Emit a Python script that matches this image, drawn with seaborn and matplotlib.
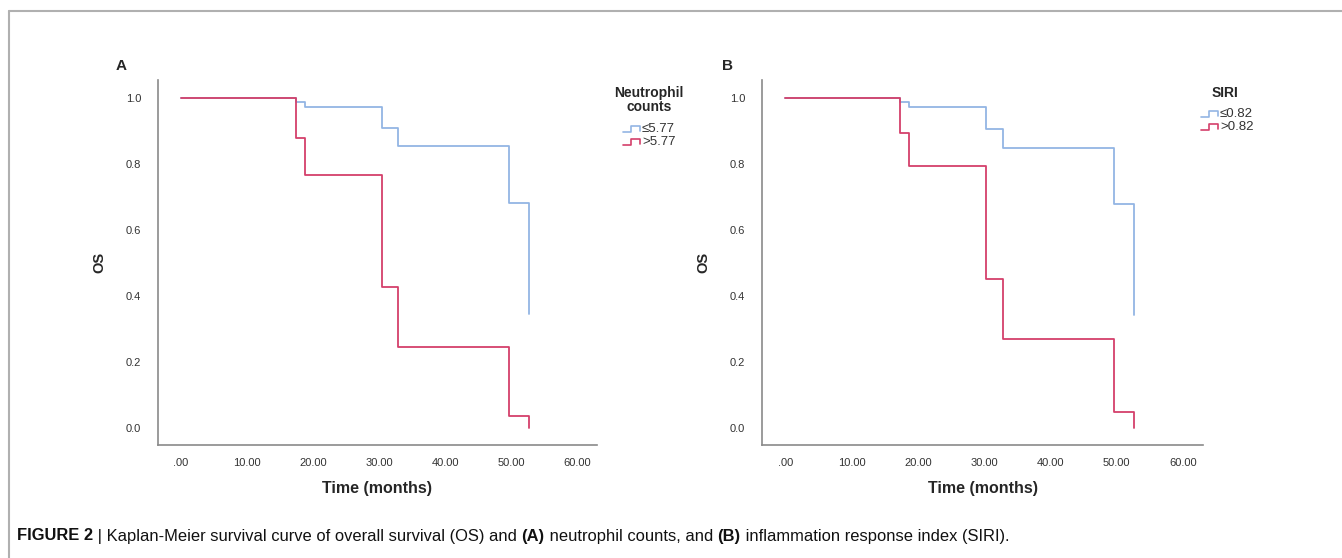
import matplotlib
matplotlib.use("Agg")
import matplotlib.pyplot as plt
from matplotlib.lines import Line2D
import seaborn as sns
import pandas as pd

sns.set_theme(style="white")
plt.rcParams['font.family'] = ['Liberation Sans Narrow', 'Liberation Sans', 'DejaVu Sans']

# ---- data ----
time_a_low = [0.0, 17.4, 18.7, 30.5, 32.9, 49.7, 52.7]
surv_a_low = [1.0, 0.989, 0.974, 0.910, 0.855, 0.683, 0.345]
time_a_high = [0.0, 17.4, 18.7, 30.5, 32.9, 49.7, 52.7]
surv_a_high = [1.0, 0.880, 0.767, 0.426, 0.246, 0.037, 0.0]

time_b_low = [0.0, 17.3, 18.6, 30.3, 32.8, 49.6, 52.6]
surv_b_low = [1.0, 0.988, 0.973, 0.907, 0.850, 0.679, 0.341]
time_b_high = [0.0, 17.3, 18.6, 30.3, 32.8, 49.6, 52.6]
surv_b_high = [1.0, 0.893, 0.793, 0.450, 0.268, 0.049, 0.0]

labels_a = ["\u22645.77", ">5.77"]
labels_b = ["\u22640.82", ">0.82"]
legend_titles = ["Neutrophil\ncounts", "SIRI"]
panel_letters = ["A", "B"]
xticks = [0, 10, 20, 30, 40, 50, 60]
xtick_labels = [".00", "10.00", "20.00", "30.00", "40.00", "50.00", "60.00"]
yticks = [0.0, 0.2, 0.4, 0.6, 0.8, 1.0]
ytick_labels = ["0.0", "0.2", "0.4", "0.6", "0.8", "1.0"]

BLUE = "#93b5e4"
RED = "#d4406b"

W, H = 1342, 558
fig = plt.figure(figsize=(W / 100, H / 100), dpi=100)
fig.patch.set_facecolor("white")

def fx(px):
    return px / W

def fy(py):
    return 1 - py / H

def make_df(t1, s1, l1, t2, s2, l2):
    return pd.DataFrame({
        "time": t1 + t2,
        "surv": s1 + s2,
        "group": [l1] * len(t1) + [l2] * len(t2),
    })

panels = [
    dict(df=make_df(time_a_low, surv_a_low, labels_a[0], time_a_high, surv_a_high, labels_a[1]),
         labels=labels_a, left=158, right=597, title=legend_titles[0], letter=panel_letters[0],
         letter_x=116, leg_title_x=649, leg_title_y=86, icon_x=623, entry_y=[129, 142]),
    dict(df=make_df(time_b_low, surv_b_low, labels_b[0], time_b_high, surv_b_high, labels_b[1]),
         labels=labels_b, left=762, right=1203, title=legend_titles[1], letter=panel_letters[1],
         letter_x=722, leg_title_x=1225, leg_title_y=86, icon_x=1201, entry_y=[114, 127]),
]

top_px, bot_px = 80, 445
for p in panels:
    ax = fig.add_axes([fx(p["left"]), fy(bot_px), fx(p["right"] - p["left"]), (bot_px - top_px) / H])
    sns.lineplot(data=p["df"], x="time", y="surv", hue="group", hue_order=p["labels"],
                 palette=[BLUE, RED], estimator=None, sort=False, drawstyle="steps-post",
                 linewidth=1.3, legend=False, ax=ax)
    ax.set_xlim(-3.5, 63)
    ax.set_ylim(-0.052, 1.055)
    ax.set_xticks(xticks)
    ax.set_xticklabels(xtick_labels, fontsize=8, color="#333333")
    ax.set_yticks(yticks)
    ax.set_yticklabels(ytick_labels, fontsize=8, color="#333333")
    ax.tick_params(axis="both", length=0)
    ax.tick_params(axis="x", pad=9)
    ax.tick_params(axis="y", pad=12)
    for s in ["top", "right"]:
        ax.spines[s].set_visible(False)
    for s in ["left", "bottom"]:
        ax.spines[s].set_color("#8a8a8a")
        ax.spines[s].set_linewidth(1.2)
    ax.set_xlabel("Time (months)", fontsize=11.5, fontweight="bold", labelpad=10)
    ax.set_ylabel("OS", fontsize=10.5, fontweight="bold", labelpad=14)
    ax.grid(False)

    fig.text(fx(p["letter_x"]), fy(66), p["letter"], fontsize=11, fontweight="bold",
             ha="left", va="center", family=["Liberation Sans", "DejaVu Sans"])
    fig.text(fx(p["leg_title_x"]), fy(p["leg_title_y"]), p["title"], fontsize=10,
             fontweight="bold", ha="center", va="top", linespacing=1.0)
    for lab, col, ey in zip(p["labels"], [BLUE, RED], p["entry_y"]):
        x0 = p["icon_x"]
        xs = [x0, x0 + 8, x0 + 8, x0 + 17, x0 + 17]
        ys = [ey + 3, ey + 3, ey - 3, ey - 3, ey + 2]
        fig.add_artist(Line2D([fx(v) for v in xs], [fy(v) for v in ys], color=col, lw=1.2))
        fig.text(fx(x0 + 19), fy(ey), lab, fontsize=9.5, ha="left", va="center", color="#333333")

# frame around the figure (top and left rules)
fig.add_artist(Line2D([fx(9), fx(W)], [fy(11), fy(11)], color="#b0b0b0", lw=1.5))
fig.add_artist(Line2D([fx(9), fx(9)], [fy(11), fy(H)], color="#b0b0b0", lw=1.5))

# caption with mixed bold runs
caption_runs = [
    ("FIGURE 2", True),
    (" | Kaplan-Meier survival curve of overall survival (OS) and ", False),
    ("(A)", True),
    (" neutrophil counts, and ", False),
    ("(B)", True),
    (" inflammation response index (SIRI).", False),
]
renderer = fig.canvas.get_renderer()
xcur = 17
for txt, bold in caption_runs:
    t = fig.text(fx(xcur), fy(536), txt, fontsize=11.9, fontweight="bold" if bold else "normal",
                 ha="left", va="center", color="#111111")
    bb = t.get_window_extent(renderer=renderer)
    xcur += bb.width

fig.savefig("out.png", dpi=100, facecolor="white")
